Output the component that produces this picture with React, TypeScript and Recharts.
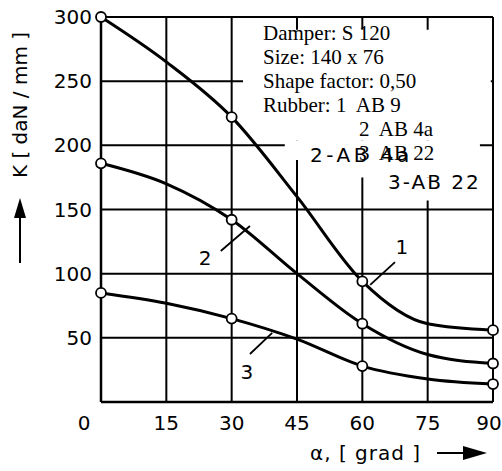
import { LineChart, Line, XAxis, YAxis, CartesianGrid, ReferenceArea, ReferenceLine, ReferenceDot } from "recharts"

// angle alpha [grad] and stiffness K [daN/mm]
const angles = [0, 15, 30, 45, 60, 75, 90]
const measuredAngles = [0, 30, 60, 90]
const rubber1 = [300, 265, 222, 160, 94, 61, 56]
const rubber2 = [186, 170, 142, 100, 61, 37, 30]
const rubber3 = [85, 77, 65, 49, 28, 18, 14]

const xTicks = [0, 15, 30, 45, 60, 75, 90]
const yTicks = [0, 50, 100, 150, 200, 250, 300]

const infoLines = ["Damper: S 120", "Size: 140 x 76", "Shape factor: 0,50", "Rubber: 1  AB 9"]
const rubberLines = ["2  AB 4a", "3  AB 22"]

const chartData = angles.map((a, i) => ({
  angle: a,
  k1: rubber1[i],
  k2: rubber2[i],
  k3: rubber3[i],
}))

const SANS = "'DejaVu Sans', sans-serif"

const renderDot = (props: any) => {
  const { cx, cy, payload, key } = props
  if (!measuredAngles.includes(payload.angle)) return <g key={key} />
  return <circle key={key} cx={cx} cy={cy} r={5} fill="#fff" stroke="#000" strokeWidth={1.8} />
}

const XTick = (props: any) => {
  const { x, y, payload } = props
  // first and last labels sit off-centre in the original
  let shift = 0
  if (payload.value === 0) shift = -17
  if (payload.value === 90) shift = -4
  return (
    <text x={x + shift} y={y + 28} textAnchor="middle" fontFamily={SANS} fontSize={20} fill="#000">
      {payload.value}
    </text>
  )
}

const YTick = (props: any) => {
  const { x, y, payload } = props
  if (payload.value === 0) return <g />
  return (
    <text x={x - 9} y={y + 7} textAnchor="end" fontFamily={SANS} fontSize={20} fill="#000">
      {payload.value}
    </text>
  )
}

const numberLabel = (txt: string) => (p: any) => (
  <text x={p.cx} y={p.cy + 7} textAnchor="middle" fontFamily={SANS} fontSize={20} fill="#000">
    {txt}
  </text>
)

export default function App() {
  return (
    <div style={{ position: "absolute", left: 0, top: 0, width: 502, height: 471, background: "#fff" }}>
      <LineChart width={502} height={471} data={chartData} margin={{ top: 17, right: 9, bottom: 0, left: 0 }}>
        <CartesianGrid stroke="#000" strokeWidth={2} strokeOpacity={1} />
        <XAxis
          dataKey="angle"
          type="number"
          domain={[0, 90]}
          ticks={xTicks}
          height={69}
          tickSize={0}
          tickMargin={0}
          tickLine={false}
          axisLine={{ stroke: "#000", strokeWidth: 2.5 }}
          tick={<XTick />}
        />
        <YAxis
          type="number"
          domain={[0, 300]}
          ticks={yTicks}
          width={101}
          tickSize={0}
          tickMargin={0}
          tickLine={false}
          axisLine={{ stroke: "#000", strokeWidth: 2.5 }}
          tick={<YTick />}
        />
        {/* blank area behind the legend text, grid is broken there */}
        <ReferenceArea x1={32.6} x2={89.5} y1={204} y2={290} fill="#fff" fillOpacity={1} stroke="none" ifOverflow="visible" />
        <ReferenceArea x1={42.2} x2={87} y1={188.6} y2={204} fill="#fff" fillOpacity={1} stroke="none" ifOverflow="visible" />
        <ReferenceArea x1={54.9} x2={87} y1={175} y2={188.6} fill="#fff" fillOpacity={1} stroke="none" ifOverflow="visible" />
        <ReferenceArea x1={68.6} x2={87} y1={157} y2={175} fill="#fff" fillOpacity={1} stroke="none" ifOverflow="visible" />

        <ReferenceLine segment={[{ x: 67.5, y: 109 }, { x: 61.8, y: 91.2 }]} stroke="#000" strokeWidth={1.8} ifOverflow="visible" />
        <ReferenceLine segment={[{ x: 27.5, y: 117.7 }, { x: 34.2, y: 137.1 }]} stroke="#000" strokeWidth={1.8} ifOverflow="visible" />
        <ReferenceLine segment={[{ x: 34.2, y: 37.4 }, { x: 39.3, y: 53.8 }]} stroke="#000" strokeWidth={1.8} ifOverflow="visible" />
        <ReferenceDot x={69.1} y={120.8} r={0} shape={numberLabel("1")} ifOverflow="visible" />
        <ReferenceDot x={23.9} y={112.2} r={0} shape={numberLabel("2")} ifOverflow="visible" />
        <ReferenceDot x={33.5} y={23.4} r={0} shape={numberLabel("3")} ifOverflow="visible" />

        <Line type="monotone" dataKey="k1" stroke="#000" strokeWidth={3} dot={renderDot} activeDot={false} isAnimationActive={false} />
        <Line type="monotone" dataKey="k2" stroke="#000" strokeWidth={3} dot={renderDot} activeDot={false} isAnimationActive={false} />
        <Line type="monotone" dataKey="k3" stroke="#000" strokeWidth={3} dot={renderDot} activeDot={false} isAnimationActive={false} />
      </LineChart>

      {/* axis titles and arrows */}
      <svg width={502} height={471} style={{ position: "absolute", left: 0, top: 0, pointerEvents: "none" }}>
        <text
          transform="translate(27,105) rotate(-90)"
          textAnchor="middle"
          fontFamily={SANS}
          fontSize={20}
          fill="#000"
        >
          K [ daN / mm ]
        </text>
        <line x1={20} y1={263} x2={20} y2={212} stroke="#000" strokeWidth={2} />
        <polygon points="14,218 26,218 20,198" fill="#000" />

        <text x={310} y={460} fontFamily={SANS} fontSize={20} letterSpacing={1} fill="#000">
          α, [ grad ]
        </text>
        <line x1={437} y1={453} x2={468} y2={453} stroke="#000" strokeWidth={2} />
        <polygon points="463,446 487,453 463,460" fill="#000" />
      </svg>

      <div
        style={{
          position: "absolute",
          left: 263,
          top: 21,
          fontFamily: "'Liberation Serif', serif",
          fontSize: 21,
          lineHeight: "24px",
          color: "#000",
          whiteSpace: "pre",
        }}
      >
        {infoLines.map((t) => (
          <div key={t}>{t}</div>
        ))}
        {rubberLines.map((t) => (
          <div key={t} style={{ paddingLeft: 96 }}>
            {t}
          </div>
        ))}
      </div>
      <div style={{ position: "absolute", left: 310, top: 143, fontFamily: SANS, fontSize: 20, lineHeight: "24px", letterSpacing: 3.5, whiteSpace: "pre" }}>
        2-AB 4a
      </div>
      <div style={{ position: "absolute", left: 388, top: 170, fontFamily: SANS, fontSize: 20, lineHeight: "24px", letterSpacing: 2, whiteSpace: "pre" }}>
        3-AB 22
      </div>
    </div>
  )
}
